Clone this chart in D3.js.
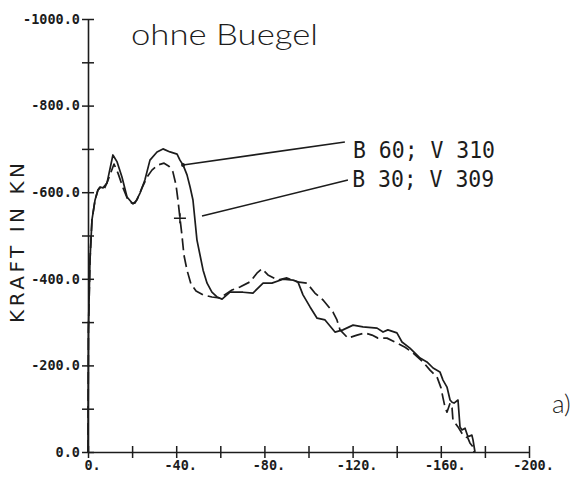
<!DOCTYPE html>
<html>
<head>
<meta charset="utf-8">
<script src="https://cdn.jsdelivr.net/npm/d3@7"></script>
<style>
  body { margin: 0; background: #fff; }
  svg { display: block; }
</style>
</head>
<body>
<svg width="582" height="481"></svg>
<script>
// force-displacement curves (x = Weg, y = Kraft in kN)
var b60v310 = [
  [0, 0], [-0.1, -150], [-0.2, -282], [-0.9, -443], [-1.8, -536], [-3.2, -582], [-4.5, -605],
  [-5.4, -612], [-6.8, -610], [-8.6, -621], [-11.3, -686], [-13.2, -670], [-15.4, -635],
  [-17.7, -589], [-20, -575], [-21.3, -575], [-23.6, -598], [-25.8, -628], [-28.1, -674],
  [-31.3, -693], [-34, -700], [-37.2, -693], [-40.4, -688], [-41.7, -674], [-43.1, -663],
  [-44.9, -640], [-46.3, -612], [-47.6, -582], [-48.5, -536], [-49.4, -490], [-50.8, -455],
  [-52.2, -420], [-54, -390], [-56.2, -369], [-58.5, -358], [-60.8, -353], [-64.4, -369],
  [-70.3, -369], [-74.8, -367], [-79.4, -390], [-83.4, -390], [-88.4, -399], [-93, -397],
  [-95.2, -393], [-97.5, -363], [-100.7, -335], [-103.9, -309], [-107.5, -305], [-112, -277],
  [-115.6, -282], [-120.2, -293], [-124.7, -289], [-131.1, -286], [-133.8, -277], [-136, -282],
  [-140.1, -275], [-142.4, -254], [-146, -240], [-150.6, -217], [-153.7, -208], [-156.5, -194],
  [-159.6, -185], [-161, -166], [-162.8, -150], [-164.2, -120], [-165.1, -115], [-166, -113],
  [-167.8, -120], [-168.7, -58], [-169.6, -51], [-171, -55], [-172.3, -35], [-174.1, -39],
  [-174.6, -28], [-175.5, 0]
];
var b30v309 = [
  [0, 0], [-0.1, -150], [-0.2, -282], [-0.9, -443], [-1.8, -536], [-3.2, -582], [-4.5, -605],
  [-5.9, -612], [-7.3, -607], [-9.1, -628], [-11.8, -665], [-13.6, -644], [-15.9, -610],
  [-18.1, -582], [-20.4, -573], [-22.2, -582], [-24.5, -610], [-26.8, -635], [-29, -651],
  [-31.7, -663], [-34.5, -667], [-36.7, -660], [-38.5, -647], [-39.9, -617], [-40.8, -582],
  [-41.7, -540], [-42.6, -501], [-43.5, -455], [-44.9, -420], [-46.7, -388], [-49, -372],
  [-52.2, -363], [-56.2, -358], [-59.9, -356], [-65.3, -374], [-68.9, -381], [-73.5, -393],
  [-76.6, -413], [-78.9, -423], [-81.6, -409], [-86.2, -397], [-90.2, -402], [-94.8, -393],
  [-99.3, -390], [-102.9, -367], [-106.6, -351], [-111.1, -323], [-112.9, -305], [-114.3, -282],
  [-117.9, -263], [-122, -270], [-125.6, -275], [-128.8, -270], [-131.5, -263], [-135.6, -263],
  [-139.2, -254], [-143.8, -242], [-147.4, -229], [-151.9, -208], [-155.1, -189], [-158.3, -173],
  [-160.1, -148], [-161, -125], [-161.9, -104], [-162.8, -92], [-164.2, -113], [-165.1, -102],
  [-165.5, -74], [-167.8, -58], [-170.1, -39], [-172.3, -32], [-173.2, -21], [-174.6, -12],
  [-175, 0]
];

var xTicks = [0, -20, -40, -60, -80, -100, -120, -140, -160, -180, -200];
var xTickLabels = {"0": "0.", "-40": "-40.", "-80": "-80.", "-120": "-120.", "-160": "-160.", "-200": "-200."};
var yTicks = [0, -100, -200, -300, -400, -500, -600, -700, -800, -900, -1000];
var yTickLabels = {"0": "0.0", "-200": "-200.0", "-400": "-400.0", "-600": "-600.0", "-800": "-800.0", "-1000": "-1000.0"};

// labels: leader from a curve point to the text
var seriesLabels = [
  {text: "B 60; V 310", from: [-43.1, -663], to: [-116.5, -716], at: [-120.2, -680], dot: true},
  {text: "B 30; V 309", from: [-51.7, -545], to: [-117.9, -628], at: [-119.8, -612], dot: false}
];
var crossMark = [-41.7, -540];

var ink = "#1c1c1c";
var svg = d3.select("svg");

var x = d3.scaleLinear().domain([0, -200]).range([88, 529]);
var y = d3.scaleLinear().domain([0, -1000]).range([452, 19]);

var tickFont = "'DejaVu Sans Mono', monospace";

// y axis
var yAxis = svg.append("g")
  .attr("transform", "translate(" + x(0) + ",0)")
  .call(d3.axisLeft(y).tickValues(yTicks).tickSize(6).tickSizeOuter(0)
    .tickFormat(function(d) { return yTickLabels[d] || ""; }));
yAxis.select(".domain").attr("stroke", ink).attr("stroke-width", 1.6);
yAxis.selectAll(".tick line").attr("x1", 6).attr("x2", -6).attr("stroke", ink).attr("stroke-width", 1.5);
yAxis.selectAll(".tick text")
  .attr("x", -8)
  .attr("fill", ink)
  .style("font-family", tickFont)
  .style("font-weight", "bold")
  .style("font-size", "13.5px");

// x axis
var xAxis = svg.append("g")
  .attr("transform", "translate(0," + y(0) + ")")
  .call(d3.axisBottom(x).tickValues(xTicks).tickSize(6).tickSizeOuter(0)
    .tickFormat(function(d) { return xTickLabels[d] || ""; }));
xAxis.select(".domain").attr("stroke", ink).attr("stroke-width", 1.6);
xAxis.selectAll(".tick line").attr("y1", -6).attr("y2", 6).attr("stroke", ink).attr("stroke-width", 1.5);
xAxis.selectAll(".tick text")
  .attr("y", 8)
  .attr("dx", 4)
  .attr("fill", ink)
  .style("font-family", tickFont)
  .style("font-weight", "bold")
  .style("font-size", "13.5px");

// curves
var line = d3.line()
  .x(function(d) { return x(d[0]); })
  .y(function(d) { return y(d[1]); });

svg.append("path")
  .datum(b60v310)
  .attr("d", line)
  .attr("fill", "none")
  .attr("stroke", ink)
  .attr("stroke-width", 1.7)
  .attr("stroke-linejoin", "round");

svg.append("path")
  .datum(b30v309)
  .attr("d", line)
  .attr("fill", "none")
  .attr("stroke", ink)
  .attr("stroke-width", 1.7)
  .attr("stroke-dasharray", "12,5")
  .attr("stroke-linejoin", "round");

// cross on dashed curve
var cx = x(crossMark[0]), cy = y(crossMark[1]);
svg.append("path")
  .attr("d", "M" + (cx - 6) + "," + cy + "H" + (cx + 6) + "M" + cx + "," + (cy - 5) + "V" + (cy + 5))
  .attr("stroke", ink)
  .attr("stroke-width", 1.5);

// leaders + labels
var lab = svg.selectAll("g.lab").data(seriesLabels).enter().append("g").attr("class", "lab");
lab.append("line")
  .attr("x1", function(d) { return x(d.from[0]); })
  .attr("y1", function(d) { return y(d.from[1]); })
  .attr("x2", function(d) { return x(d.to[0]); })
  .attr("y2", function(d) { return y(d.to[1]); })
  .attr("stroke", ink)
  .attr("stroke-width", 1.6);
lab.filter(function(d) { return d.dot; }).append("circle")
  .attr("cx", function(d) { return x(d.from[0]); })
  .attr("cy", function(d) { return y(d.from[1]); })
  .attr("r", 2)
  .attr("fill", ink);
lab.append("text")
  .attr("x", function(d) { return x(d.at[0]); })
  .attr("y", function(d) { return y(d.at[1]); })
  .attr("fill", ink)
  .style("font-family", tickFont)
  .style("font-size", "23px")
  .attr("textLength", 142)
  .attr("lengthAdjust", "spacingAndGlyphs")
  .text(function(d) { return d.text; });

// title
svg.append("text")
  .attr("x", 131)
  .attr("y", 45)
  .attr("fill", ink)
  .attr("textLength", 187)
  .attr("lengthAdjust", "spacingAndGlyphs")
  .style("font-family", "Lato, 'DejaVu Sans', sans-serif")
  .style("font-weight", 300)
  .style("font-size", "29px")
  .text("ohne Buegel");

// y axis title
svg.append("text")
  .attr("transform", "translate(24,243) rotate(-90)")
  .attr("text-anchor", "middle")
  .attr("fill", ink)
  .attr("textLength", 160)
  .attr("lengthAdjust", "spacing")
  .style("font-family", "'DejaVu Sans', sans-serif")
  .style("font-size", "20px")
  .text("KRAFT IN KN");

// panel letter
svg.append("text")
  .attr("x", 552)
  .attr("y", 413)
  .attr("fill", ink)
  .style("font-family", "Lato, 'DejaVu Sans', sans-serif")
  .style("font-weight", 300)
  .style("font-size", "26px")
  .text("a)");
</script>
</body>
</html>
